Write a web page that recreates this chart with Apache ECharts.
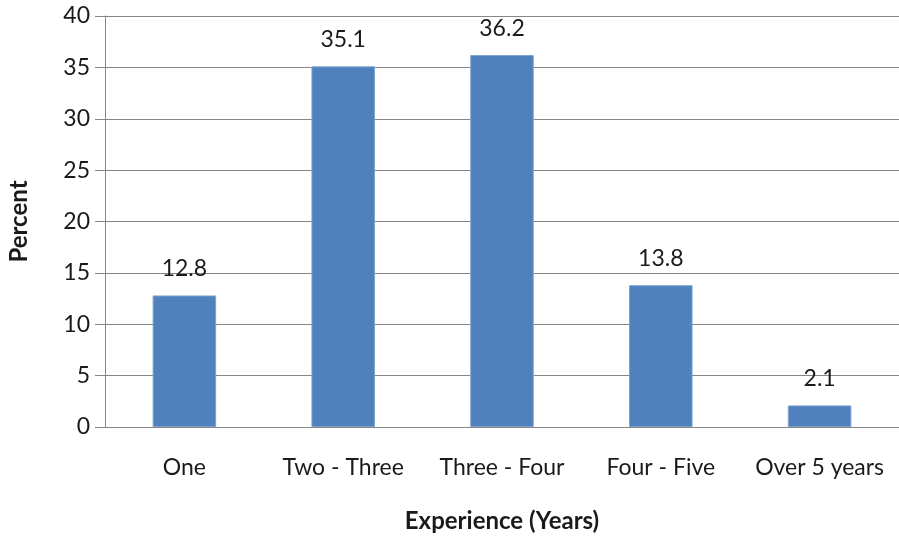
<!DOCTYPE html>
<html>
<head>
<meta charset="utf-8">
<script src="https://cdn.jsdelivr.net/npm/echarts@6/dist/echarts.min.js"></script>
<style>
  html, body { margin: 0; padding: 0; background: #fff; }
  #chart { width: 899px; height: 537px; }
</style>
</head>
<body>
<div id="chart"></div>
<script>
// Share of respondents by years of experience
const categories = ['One', 'Two - Three', 'Three - Four', 'Four - Five', 'Over 5 years'];
const percentValues = [12.8, 35.1, 36.2, 13.8, 2.1];
const yTicks = { min: 0, max: 40, interval: 5 };

const font = 'Lato, "Open Sans", sans-serif';
const textColor = '#1a1a1a';
const lineColor = '#868686';

const chart = echarts.init(document.getElementById('chart'), null, { renderer: 'canvas' });
chart.setOption({
  animation: false,
  grid: { left: 105, right: 0, top: 16, bottom: 110, outerBoundsMode: 'none', containLabel: false },
  xAxis: {
    type: 'category',
    data: categories,
    name: 'Experience (Years)',
    nameLocation: 'middle',
    nameGap: 82,
    nameTextStyle: { fontFamily: font, fontSize: 24, fontWeight: 'bold', color: textColor },
    axisLine: { show: true, lineStyle: { color: lineColor, width: 1 } },
    axisTick: { show: false },
    axisLabel: { interval: 0, fontFamily: font, fontSize: 23, color: textColor, margin: 29 }
  },
  yAxis: {
    type: 'value',
    min: yTicks.min,
    max: yTicks.max,
    interval: yTicks.interval,
    name: 'Percent',
    nameLocation: 'middle',
    nameGap: 74,
    nameRotate: 90,
    nameTextStyle: { fontFamily: font, fontSize: 24, fontWeight: 'bold', color: textColor },
    axisLine: { show: true, lineStyle: { color: lineColor, width: 1 } },
    axisTick: { show: true, length: 10, inside: false, lineStyle: { color: lineColor } },
    axisLabel: { fontFamily: font, fontSize: 23, color: textColor, margin: 15 },
    splitLine: { show: true, lineStyle: { color: lineColor, width: 1 } }
  },
  series: [{
    type: 'bar',
    data: percentValues,
    barWidth: '40%',
    itemStyle: { color: '#4F81BD', borderColor: '#7DA2CE', borderWidth: 1 },
    label: {
      show: true,
      position: 'top',
      distance: 15,
      fontFamily: font,
      fontSize: 23,
      color: textColor,
      formatter: p => p.value.toFixed(1)
    }
  }]
});
</script>
</body>
</html>
